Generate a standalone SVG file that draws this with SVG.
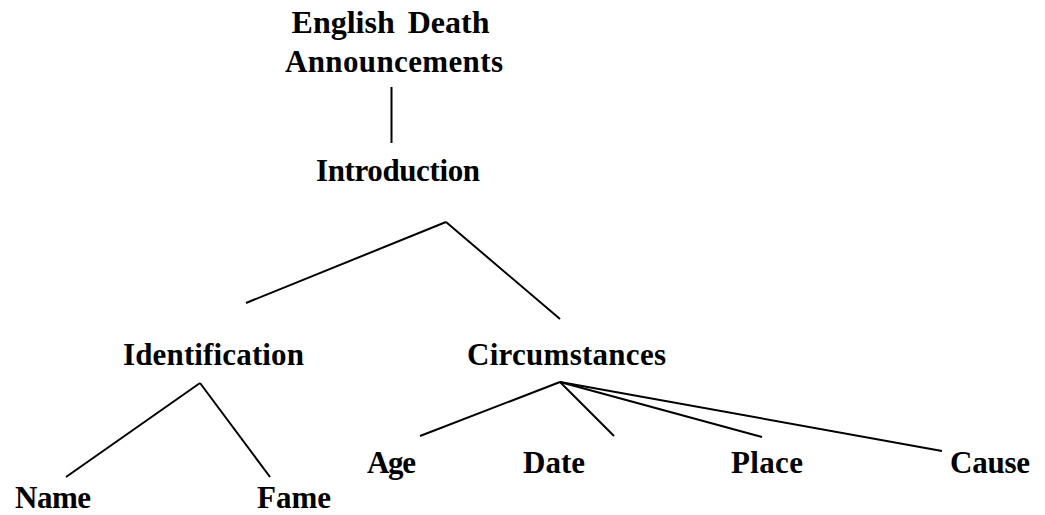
<svg xmlns="http://www.w3.org/2000/svg" width="1045" height="515" viewBox="0 0 1045 515">
<style>
text{font-family:"Liberation Serif","Times New Roman",serif;font-weight:bold;font-size:31px;fill:#000;text-anchor:middle}
line{stroke:#000;stroke-width:2;stroke-linecap:butt}
</style>
<rect width="1045" height="515" fill="#fff"/>
<g id="connectors">
<line x1="391.5" y1="87" x2="391.5" y2="143"/>
<line x1="446" y1="222" x2="246" y2="303"/>
<line x1="446" y1="222" x2="560" y2="319"/>
<line x1="200" y1="383" x2="66" y2="477"/>
<line x1="200" y1="383" x2="270" y2="477"/>
<line x1="560" y1="382" x2="420" y2="436"/>
<line x1="560" y1="382" x2="614" y2="436"/>
<line x1="560" y1="382" x2="762" y2="437"/>
<line x1="560" y1="382" x2="942" y2="451"/>
</g>
<g id="root"><text x="390.5" y="33" style="font-size:32px;word-spacing:5px">English Death</text><text x="394" y="72" textLength="218">Announcements</text></g>
<g id="introduction"><text x="398" y="181" textLength="164">Introduction</text></g>
<g id="identification"><text x="213.5" y="365" textLength="181">Identification</text></g>
<g id="circumstances"><text x="566.5" y="365" textLength="199">Circumstances</text></g>
<g id="name"><text x="53" y="508" textLength="76">Name</text></g>
<g id="fame"><text x="294" y="508" textLength="74">Fame</text></g>
<g id="age"><text x="391.5" y="473" textLength="49">Age</text></g>
<g id="date"><text x="554" y="473" textLength="62">Date</text></g>
<g id="place"><text x="767" y="473" textLength="72">Place</text></g>
<g id="cause"><text x="990" y="473" textLength="80">Cause</text></g>
</svg>
